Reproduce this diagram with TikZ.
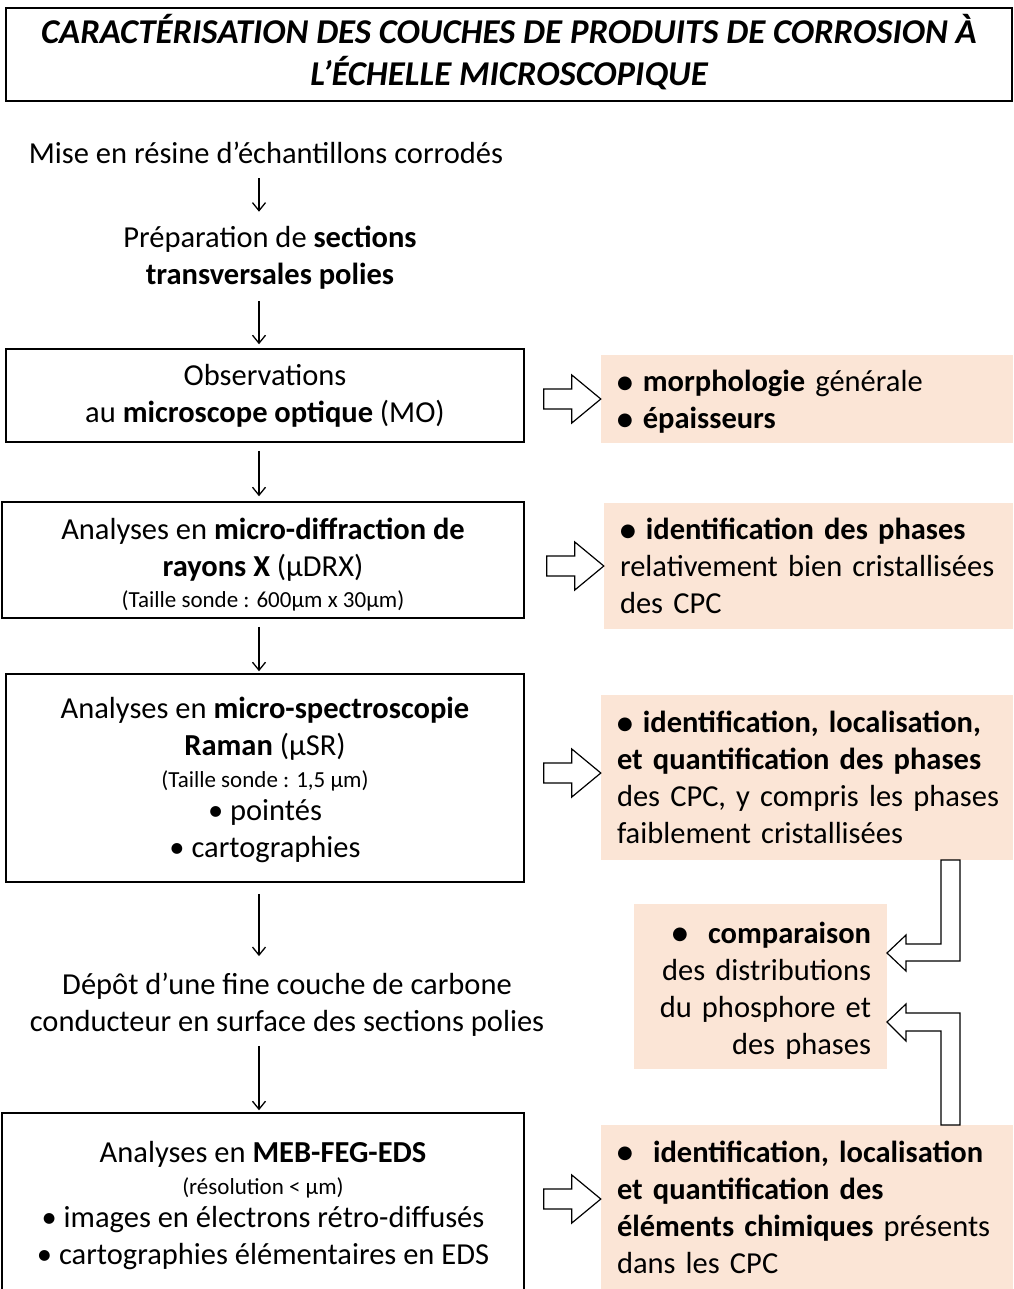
\documentclass[tikz,border=0pt]{standalone}
\usepackage{fontspec}
\setmainfont{Carlito}
\newfontfamily\dejavu{DejaVu Sans}
\usetikzlibrary{arrows.meta}
\definecolor{peach}{HTML}{FBE5D6}
\newcommand\bigbul{\raisebox{3.5pt}{\dejavu\fontsize{18}{18}\selectfont ●}}
\newcommand\smallfs{\fontsize{23}{27}\selectfont}
\newcommand\topstrut[1]{\rule{0pt}{#1pt}}
\begin{document}
\begin{tikzpicture}[x=1pt,y=-1pt,
  font=\fontsize{30.5}{37}\selectfont,
  box/.style={draw, line width=1.5pt, align=center, inner sep=0pt},
  txt/.style={align=center, inner sep=0pt},
  peachbox/.style={fill=peach, inner xsep=16pt, inner ysep=0pt, align=left},
  arr/.style={-{Straight Barb[length=8pt,width=13pt]}, line width=1.3pt},
  barrow/.style={draw, line width=1.2pt, fill=white, line join=miter},
  rarrow/.pic={\draw[barrow] (-57,-10) -- (-29,-10) -- (-29,-24) -- (0,0) -- (-29,24) -- (-29,10) -- (-57,10) -- cycle;}
]
\useasboundingbox (0,0) rectangle (1013,1289);

% title
\node[box, minimum width=1006, minimum height=93,
      font=\fontsize{34.8}{42}\selectfont\bfseries\itshape] (title) at (509,54.5)
  {CARACTÉRISATION DES COUCHES DE PRODUITS DE CORROSION À\\L’ÉCHELLE MICROSCOPIQUE\rule[-9pt]{0pt}{0pt}};

% left column
\node[txt] (mise) at (266,153) {Mise en résine d’échantillons corrodés};
\node[txt] (prep) at (270,257.5) {Préparation de \textbf{sections}\\\textbf{transversales polies}};
\node[box, minimum width=518, minimum height=93] (mo) at (265,395.5)
  {Observations\\au \textbf{microscope optique} (MO)};
\node[box, minimum width=522, minimum height=116] (drx) at (263,560)
  {\topstrut{31}Analyses en \textbf{micro-diffraction de}\\\textbf{rayons X} (µDRX)\\[-6pt]{\smallfs (Taille sonde : 600µm x 30µm)}};
\node[box, minimum width=518, minimum height=208] (raman) at (265,778)
  {\topstrut{26}Analyses en \textbf{micro-spectroscopie}\\\textbf{Raman} (µSR)\\[-5pt]{\smallfs (Taille sonde : 1,5 µm)}\\[-4pt]• pointés\\• cartographies};
\node[txt] (depot) at (287,1005) {Dépôt d’une fine couche de carbone\\conducteur en surface des sections polies};
\node[box, minimum width=522, minimum height=178] (meb) at (263,1202)
  {\topstrut{28}Analyses en \textbf{MEB-FEG-EDS}\\[-5pt]{\smallfs (résolution < µm)}\\[-4pt]• images en électrons rétro-diffusés\\• cartographies élémentaires en EDS};

% vertical arrows
\coordinate (ax) at (259,0);
\draw[arr, shorten <=14pt, shorten >=14pt] (ax |- mise.south) -- (ax |- prep.north);
\draw[arr, shorten <=12pt, shorten >=4pt] (ax |- prep.south) -- (ax |- mo.north);
\draw[arr, shorten <=8pt, shorten >=5pt] (ax |- mo.south) -- (ax |- drx.north);
\draw[arr, shorten <=8pt, shorten >=2pt] (ax |- drx.south) -- (ax |- raman.north);
\draw[arr, shorten <=11pt, shorten >=17pt] (ax |- raman.south) -- (ax |- depot.north);
\draw[arr, shorten <=9pt, shorten >=2pt] (ax |- depot.south) -- (ax |- meb.north);

% right column
\node[peachbox, text width=380, minimum height=88] (p1) at (807,399)
  {\topstrut{27}\bigbul\ \textbf{morphologie} générale\\\bigbul\ \textbf{épaisseurs}};
\node[peachbox, text width=377, minimum height=126] (p2) at (808.5,566)
  {\bigbul\ \textbf{identification des phases}\\relativement bien cristallisées\\des CPC};
\node[peachbox, text width=380, minimum height=165] (p3) at (807,777.5)
  {\mbox{\bigbul\ \textbf{identification, localisation,}}\\\mbox{\textbf{et quantification des phases}}\\\mbox{des CPC, y compris les phases}\\\mbox{faiblement cristallisées}};
\node[peachbox, text width=221, minimum height=165, align=right] (p4) at (760.5,986.5)
  {\topstrut{29}\bigbul\ \ \textbf{comparaison}\\des distributions\\du phosphore et\\des phases};
\node[peachbox, text width=380, minimum height=164] (p5) at (807,1207)
  {\bigbul\ \ \textbf{identification, localisation}\\\textbf{et quantification des}\\\textbf{éléments chimiques} présents\\dans les CPC};

% block arrows
\pic at (p1.west) {rarrow};
\pic at (p2.west) {rarrow};
\pic at ([yshift=4.5pt]p3.west) {rarrow};
\pic at ([yshift=8pt]p5.west) {rarrow};

% L-shaped block arrows
\draw[barrow] (941,860) -- (960,860) -- (960,961) -- (906,961) -- (906,971) -- (887,953)
  -- (906,935) -- (906,944) -- (941,944) -- cycle;
\draw[barrow] (941,1125) -- (960,1125) -- (960,1013) -- (906,1013) -- (906,1004) -- (887,1022)
  -- (906,1041) -- (906,1031) -- (941,1031) -- cycle;
\end{tikzpicture}
\end{document}
